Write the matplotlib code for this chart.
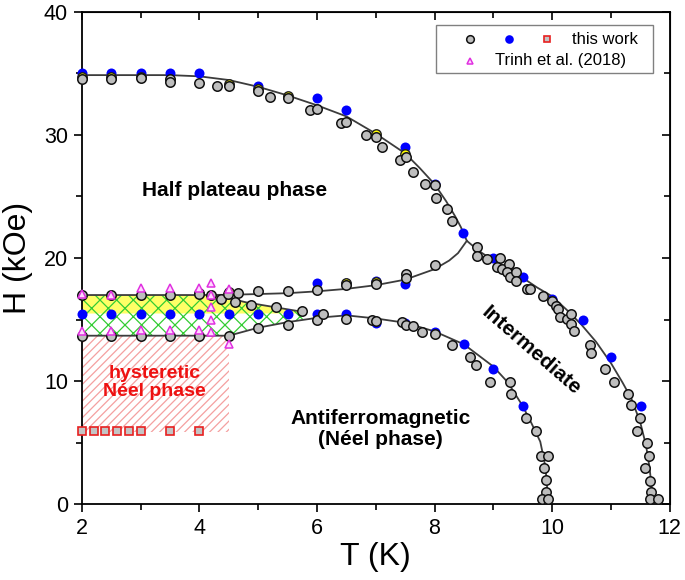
import matplotlib
matplotlib.use("Agg")
import matplotlib.pyplot as plt
from matplotlib.ticker import MultipleLocator
from matplotlib.patches import Rectangle

plt.rcParams['font.family'] = ['Liberation Sans', 'DejaVu Sans']
plt.rcParams['hatch.linewidth'] = 0.9

# ---------------- data ----------------
# gray circles (this work)
gray_T = [2.0, 2.5, 3.0, 3.5, 3.5, 4.0, 4.3, 4.5, 5.0, 5.2, 5.5, 5.88, 6.0, 6.4, 6.5, 6.84, 7.0, 7.1,
          7.42, 7.52, 7.64, 7.83, 8.0, 8.03, 8.22, 8.29, 8.73, 8.72,
          8.89, 9.11, 9.06, 9.15, 9.27, 9.23, 9.28, 9.38, 9.39, 9.58, 9.63, 9.85, 10.0, 10.07, 10.11,
          10.14, 10.26, 10.32, 10.32, 10.37, 10.65, 10.67, 10.91, 11.05, 11.3, 11.34, 11.49, 11.45,
          11.62, 11.65, 11.58, 11.66, 11.69, 11.66, 11.8,
          2.0, 2.5, 3.0, 3.5, 4.0, 4.2, 4.37, 4.49, 4.66, 5.0, 5.5, 6.0, 6.5, 7.0, 7.51, 7.51, 8.0,
          4.6, 4.88, 5.3, 5.74,
          2.0, 2.5, 3.0, 3.5, 4.0, 4.5, 5.0, 5.5, 6.0, 6.1, 6.5, 6.94, 7.0, 7.45, 7.51, 7.64, 7.78,
          8.0, 8.29, 8.6, 8.7, 8.95, 9.28, 9.31, 9.55, 9.73, 9.81, 9.93, 9.87, 9.89, 9.9, 9.83, 9.93]
gray_H = [34.5, 34.55, 34.6, 34.55, 34.3, 34.2, 34.0, 34.0, 33.6, 33.1, 33.0, 32.0, 32.1, 31.0, 31.05, 30.0, 29.8, 29.0,
          28.0, 28.2, 27.0, 26.0, 25.9, 24.9, 24.0, 23.0, 20.9, 20.2,
          19.94, 20.02, 19.3, 19.1, 19.5, 18.85, 18.45, 18.9, 18.1, 17.5, 17.45, 16.95, 16.5, 16.1, 15.9,
          15.2, 15.05, 15.45, 14.65, 14.1, 12.95, 12.3, 11.0, 9.97, 8.94, 8.04, 6.98, 5.95,
          5.0, 3.9, 2.96, 1.93, 1.0, 0.46, 0.46,
          17.0, 17.0, 17.0, 17.0, 17.1, 17.0, 16.7, 17.1, 17.2, 17.3, 17.36, 17.4, 17.8, 17.9, 18.7, 18.4, 19.45,
          16.46, 16.2, 16.0, 15.7,
          13.7, 13.7, 13.7, 13.7, 13.7, 13.7, 14.3, 14.55, 15.0, 15.5, 15.05, 14.97, 14.86, 14.78, 14.6, 14.45, 14.0,
          13.83, 12.96, 11.98, 11.3, 9.97, 9.97, 9.0, 6.98, 5.95, 3.97, 3.97, 2.96, 2.0, 1.0, 0.46, 0.46]

# blue dots (this work)
blue_T = [2.0, 2.5, 3.0, 3.5, 4.0, 5.0, 6.0, 6.5, 7.5, 8.0, 8.49, 9.0, 9.5, 10.0, 10.52, 11.0, 11.52,
          6.0, 6.5, 7.0, 7.5,
          2.0, 2.5, 3.0, 3.5, 4.0, 4.5, 5.0, 5.5,
          6.0, 6.5, 7.0, 7.5, 8.0, 8.5, 9.0, 9.5]
blue_H = [35.0, 35.0, 35.0, 35.0, 35.0, 34.0, 33.0, 32.0, 29.0, 26.0, 22.0, 20.0, 18.5, 16.7, 15.0, 12.0, 8.0,
          18.0, 18.0, 18.1, 17.9,
          15.5, 15.5, 15.5, 15.5, 15.5, 15.5, 15.5, 15.5,
          15.5, 15.5, 14.75, 14.75, 14.0, 13.0, 11.0, 8.0]

# yellow circles (mostly hidden behind gray ones)
yellow_T = [2.0, 2.5, 3.0, 4.5, 5.0, 5.5, 7.0, 7.5, 4.0, 4.5, 6.5, 7.0]
yellow_H = [34.68, 34.7, 34.72, 34.15, 33.75, 33.15, 30.1, 28.45, 17.2, 17.25, 17.95, 18.05]

# red squares (this work)
red_T = [2.0, 2.2, 2.4, 2.6, 2.8, 3.0, 3.5, 4.0]
red_H = [6.0, 6.0, 6.0, 6.0, 6.0, 6.0, 6.0, 6.0]

# magenta triangles (Trinh et al. 2018)
tri_T = [2.0, 2.0, 2.5, 2.5, 3.0, 3.0, 3.5, 3.5, 4.0, 4.0, 4.2, 4.2, 4.2, 4.2, 4.2, 4.5, 4.5]
tri_H = [17.1, 14.1, 17.0, 14.1, 17.6, 14.2, 17.6, 14.2, 17.6, 14.2, 18.0, 17.0, 16.05, 15.0, 14.0, 17.5, 13.0]

# phase boundary guide lines
upper_T = [2.0, 3.0, 3.5, 4.0, 4.5, 5.0, 5.5, 6.0, 6.5, 7.0, 7.5, 7.75, 8.0, 8.2, 8.35, 8.45, 8.55,
           8.75, 9.0, 9.25, 9.5, 9.75, 10.0, 10.25, 10.5, 10.75, 11.0, 11.2, 11.35, 11.5, 11.6, 11.66, 11.7, 11.71]
upper_H = [34.85, 34.85, 34.85, 34.75, 34.45, 33.9, 33.2, 32.4, 31.5, 30.1, 28.5, 27.3, 26.0, 24.6, 23.4, 22.5, 21.4,
           20.6, 19.8, 19.1, 18.4, 17.6, 16.9, 15.8, 14.6, 13.2, 11.5, 9.9, 8.6, 6.7, 4.8, 3.0, 1.2, 0.0]

middle_T = [2.0, 3.0, 4.0, 4.5, 5.0, 5.5, 6.0, 6.5, 7.0, 7.5, 8.0, 8.25, 8.4, 8.55]
middle_H = [17.0, 17.0, 17.0, 17.02, 17.08, 17.15, 17.3, 17.5, 17.8, 18.25, 19.1, 19.8, 20.4, 21.4]

wedge_T = [4.27, 4.8, 5.3, 5.8]
wedge_H = [17.0, 16.4, 16.0, 15.6]

lower_T = [2.0, 3.0, 4.0, 4.5, 5.0, 5.5, 6.0, 6.5, 7.0, 7.5, 8.0, 8.5, 9.0, 9.25, 9.5, 9.65, 9.8, 9.87, 9.91, 9.93]
lower_H = [13.7, 13.7, 13.7, 13.7, 14.35, 14.8, 15.15, 15.35, 15.1, 14.75, 14.05, 13.0, 11.2, 9.9, 8.0, 6.6, 5.1, 3.5, 2.0, 0.0]

# shaded regions
yellow_reg_T = [2.0, 4.27, 4.8, 5.3, 5.75, 5.75, 2.0]
yellow_reg_H = [17.0, 17.0, 16.4, 16.0, 15.62, 15.5, 15.5]
green_reg_T = [2.0, 4.27, 4.8, 5.3, 5.8, 5.8, 5.5, 5.0, 4.5, 2.0]
green_reg_H = [17.0, 17.0, 16.4, 16.0, 15.6, 15.05, 14.8, 14.35, 13.7, 13.7]
red_reg_T = [2.0, 4.5]
red_reg_lo = [5.9, 5.9]
red_reg_hi = [13.7, 13.7]

# ---------------- figure ----------------
fig = plt.figure(figsize=(6.85, 5.8), dpi=100)
ax = fig.add_axes([0.1197, 0.1302, 0.8577, 0.8497])

ax.fill(yellow_reg_T, yellow_reg_H, facecolor='#ffff66', edgecolor='none', zorder=1)
ax.fill(green_reg_T, green_reg_H, facecolor='none', edgecolor='#33cc33', hatch='xx', linewidth=0, zorder=1.5)
ax.fill_between(red_reg_T, red_reg_lo, red_reg_hi, facecolor='none', edgecolor='#f4a0a0',
                hatch='////', linewidth=0, zorder=1)

lc = '#3c3c3c'
for xs, ys in [(upper_T, upper_H), (middle_T, middle_H), (wedge_T, wedge_H), (lower_T, lower_H)]:
    ax.plot(xs, ys, color=lc, lw=1.3, zorder=2)

ax.plot(blue_T, blue_H, 'o', ms=7.2, mfc='#0000ff', mec='none', zorder=3, clip_on=False)
ax.plot(yellow_T, yellow_H, 'o', ms=6.8, mfc='#ffff00', mec='#202020', mew=1.0, zorder=4, clip_on=False)
ax.plot(gray_T, gray_H, 'o', ms=6.8, mfc='#bebebe', mec='#111111', mew=1.1, zorder=5, clip_on=False)
ax.plot(tri_T, tri_H, '^', ms=5.5, mfc='#ffd8ff', mec='#e030e0', mew=1.1, zorder=6, clip_on=False)
ax.plot(red_T, red_H, 's', ms=5.2, mfc='#c4c4c4', mec='#e82020', mew=1.2, zorder=6, clip_on=False)

# annotations
ax.text(4.6, 25.5, 'Half plateau phase', fontsize=15, fontweight='bold', ha='center', va='center')
ax.text(3.24, 9.9, 'hysteretic\nNéel phase', fontsize=14, fontweight='bold', color='#ee1111',
        ha='center', va='center', linespacing=1.1)
ax.text(7.08, 6.1, 'Antiferromagnetic\n(Néel phase)', fontsize=15, fontweight='bold',
        ha='center', va='center', linespacing=1.15)
ax.text(9.64, 12.5, 'Intermediate', fontsize=15, fontweight='bold', rotation=-41,
        rotation_mode='anchor', ha='center', va='center')

# axes
ax.set_xlim(2, 12)
ax.set_ylim(0, 40)
ax.xaxis.set_major_locator(MultipleLocator(2))
ax.xaxis.set_minor_locator(MultipleLocator(1))
ax.yaxis.set_major_locator(MultipleLocator(10))
ax.yaxis.set_minor_locator(MultipleLocator(5))
ax.tick_params(which='major', direction='out', length=6, width=1.2, labelsize=15.5, pad=4)
ax.tick_params(which='minor', direction='out', length=4, width=1.2)
for s in ax.spines.values():
    s.set_linewidth(1.3)
ax.set_xlabel('T (K)', fontsize=23, labelpad=2)
ax.set_ylabel('H (kOe)', fontsize=23, labelpad=8)

secx = ax.secondary_xaxis('top')
secx.xaxis.set_major_locator(MultipleLocator(2))
secx.xaxis.set_minor_locator(MultipleLocator(1))
secx.tick_params(which='both', direction='in', labeltop=False, width=1.2)
secx.tick_params(which='major', length=6)
secx.tick_params(which='minor', length=4)
secy = ax.secondary_yaxis('right')
secy.yaxis.set_major_locator(MultipleLocator(10))
secy.yaxis.set_minor_locator(MultipleLocator(5))
secy.tick_params(which='both', direction='in', labelright=False, width=1.2)
secy.tick_params(which='major', length=6)
secy.tick_params(which='minor', length=4)

# legend (custom layout, drawn in axes coordinates)
ax.add_patch(Rectangle((0.6026, 0.875), 0.3698, 0.098, transform=ax.transAxes, facecolor='white',
                       edgecolor='#808080', lw=1.0, zorder=7))
ax.plot([0.6604], [0.944], 'o', ms=5.5, mfc='#bebebe', mec='#111111', mew=1.1, transform=ax.transAxes, zorder=8)
ax.plot([0.7268], [0.944], 'o', ms=6.2, mfc='#0000ff', mec='none', transform=ax.transAxes, zorder=8)
ax.plot([0.791], [0.944], 's', ms=5.0, mfc='#c4c4c4', mec='#e82020', mew=1.2, transform=ax.transAxes, zorder=8)
ax.text(0.8335, 0.944, 'this work', fontsize=12, transform=ax.transAxes, va='center', ha='left', zorder=8)
ax.plot([0.6604], [0.9006], '^', ms=5.0, mfc='#ffd8ff', mec='#e030e0', mew=1.1, transform=ax.transAxes, zorder=8)
ax.text(0.703, 0.9006, 'Trinh et al. (2018)', fontsize=12, transform=ax.transAxes, va='center', ha='left', zorder=8)

fig.savefig('out.png', dpi=100)
